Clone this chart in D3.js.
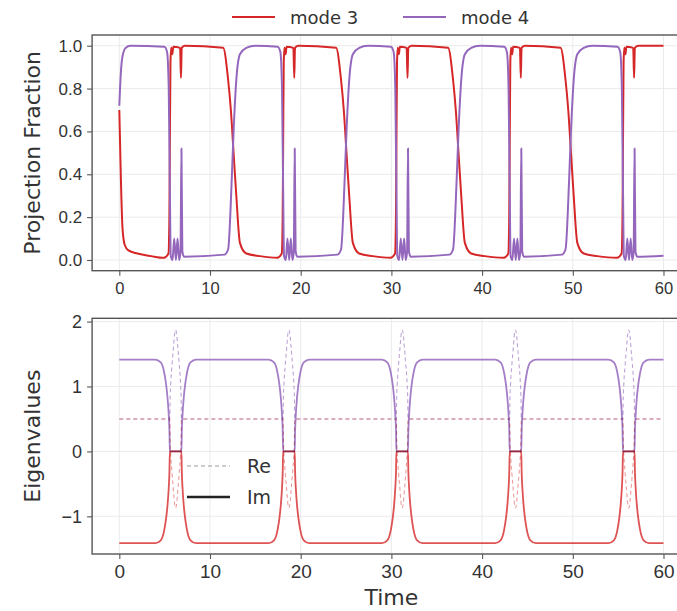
<!DOCTYPE html>
<html>
<head>
<meta charset="utf-8">
<script src="https://cdn.jsdelivr.net/npm/d3@7"></script>
<style>
  html, body { margin: 0; padding: 0; background: #fff; }
  svg { display: block; font-family: "DejaVu Sans", sans-serif; }
</style>
</head>
<body>
<svg id="chart" width="677" height="611"></svg>
<script>
// top panel: projection fraction of the state onto each mode, [time, value]
const mode3 = [
  [0, 0.70], [0.15, 0.42], [0.35, 0.15], [0.6, 0.07], [1.0, 0.045], [2.0, 0.03], [3.5, 0.018], [4.92, 0.01],
  [5.42, 0.03], [5.52, 0.2], [5.57, 0.5], [5.64, 0.92], [5.72, 0.99], [5.85, 0.96], [5.95, 0.995], [6.7, 0.99], [6.8, 0.85], [6.88, 0.99], [7.2, 1.0],
  [11.45, 0.99], [12.0, 0.84], [12.3, 0.7], [12.6, 0.5], [12.9, 0.3], [13.3, 0.08], [14.0, 0.03], [15.5, 0.018], [17.41, 0.01],
  [17.91, 0.03], [18.01, 0.2], [18.06, 0.5], [18.13, 0.92], [18.21, 0.99], [18.34, 0.96], [18.44, 0.995], [19.19, 0.99], [19.29, 0.85], [19.37, 0.99], [19.7, 1.0],
  [23.9, 0.99], [24.45, 0.84], [24.75, 0.7], [25.05, 0.5], [25.35, 0.3], [25.75, 0.08], [26.45, 0.03], [27.95, 0.018], [29.9, 0.01],
  [30.4, 0.03], [30.5, 0.2], [30.55, 0.5], [30.62, 0.92], [30.7, 0.99], [30.83, 0.96], [30.93, 0.995], [31.68, 0.99], [31.78, 0.85], [31.86, 0.99], [32.2, 1.0],
  [36.25, 0.99], [36.8, 0.84], [37.1, 0.7], [37.4, 0.5], [37.7, 0.3], [38.1, 0.08], [38.8, 0.03], [40.3, 0.018], [42.39, 0.01],
  [42.89, 0.03], [42.99, 0.2], [43.04, 0.5], [43.11, 0.92], [43.19, 0.99], [43.32, 0.96], [43.42, 0.995], [44.17, 0.99], [44.27, 0.85], [44.35, 0.99], [44.7, 1.0],
  [48.65, 0.99], [49.2, 0.84], [49.5, 0.7], [49.8, 0.5], [50.1, 0.3], [50.5, 0.08], [51.2, 0.03], [52.7, 0.018], [54.88, 0.01],
  [55.38, 0.03], [55.48, 0.2], [55.53, 0.5], [55.6, 0.92], [55.68, 0.99], [55.81, 0.96], [55.91, 0.995], [56.66, 0.99], [56.76, 0.85], [56.84, 0.99], [57.2, 1.0],
  [60, 1.0],
];

const mode4 = [
  [0, 0.72], [0.15, 0.86], [0.35, 0.95], [0.7, 0.99], [1.2, 1.0], [4.97, 0.995],
  [5.27, 0.97], [5.45, 0.8], [5.57, 0.35], [5.67, 0.02], [5.87, 0.0], [6.05, 0.1], [6.24, 0.0], [6.42, 0.1], [6.6, 0.0], [6.75, 0.04], [6.85, 0.52], [6.95, 0.04], [7.15, 0.015],
  [11.6, 0.025], [12.0, 0.05], [12.4, 0.38], [12.6, 0.6], [12.9, 0.84], [13.3, 0.96], [14.0, 0.99], [15.0, 1.0], [17.46, 0.995],
  [17.76, 0.97], [17.94, 0.8], [18.06, 0.35], [18.16, 0.02], [18.36, 0.0], [18.54, 0.1], [18.73, 0.0], [18.91, 0.1], [19.09, 0.0], [19.24, 0.04], [19.34, 0.52], [19.44, 0.04], [19.64, 0.015],
  [24.05, 0.025], [24.45, 0.05], [24.85, 0.38], [25.05, 0.6], [25.35, 0.84], [25.75, 0.96], [26.45, 0.99], [27.4, 1.0], [29.95, 0.995],
  [30.25, 0.97], [30.43, 0.8], [30.55, 0.35], [30.65, 0.02], [30.85, 0.0], [31.03, 0.1], [31.22, 0.0], [31.4, 0.1], [31.58, 0.0], [31.73, 0.04], [31.83, 0.52], [31.93, 0.04], [32.13, 0.015],
  [36.4, 0.025], [36.8, 0.05], [37.2, 0.38], [37.4, 0.6], [37.7, 0.84], [38.1, 0.96], [38.8, 0.99], [39.75, 1.0], [42.44, 0.995],
  [42.74, 0.97], [42.92, 0.8], [43.04, 0.35], [43.14, 0.02], [43.34, 0.0], [43.52, 0.1], [43.71, 0.0], [43.89, 0.1], [44.07, 0.0], [44.22, 0.04], [44.32, 0.52], [44.42, 0.04], [44.62, 0.015],
  [48.8, 0.025], [49.2, 0.05], [49.6, 0.38], [49.8, 0.6], [50.1, 0.84], [50.5, 0.96], [51.2, 0.99], [52.15, 1.0], [54.93, 0.995],
  [55.23, 0.97], [55.41, 0.8], [55.53, 0.35], [55.63, 0.02], [55.83, 0.0], [56.01, 0.1], [56.2, 0.0], [56.38, 0.1], [56.56, 0.0], [56.71, 0.04], [56.81, 0.52], [56.91, 0.04], [57.11, 0.015],
  [60, 0.02],
];

// bottom panel: imaginary parts (solid) and real parts (dashed) of the two eigenvalues
const imUpper = [
  [0, 1.414],
  [3.97, 1.414], [4.57, 1.37], [4.97, 1.2], [5.17, 1.02], [5.32, 0.82], [5.45, 0.56], [5.53, 0.3], [5.57, 0], [6.85, 0], [6.89, 0.3], [6.97, 0.56], [7.1, 0.82], [7.25, 1.02], [7.45, 1.2], [7.85, 1.37], [8.45, 1.414],
  [16.46, 1.414], [17.06, 1.37], [17.46, 1.2], [17.66, 1.02], [17.81, 0.82], [17.94, 0.56], [18.02, 0.3], [18.06, 0], [19.34, 0], [19.38, 0.3], [19.46, 0.56], [19.59, 0.82], [19.74, 1.02], [19.94, 1.2], [20.34, 1.37], [20.94, 1.414],
  [28.95, 1.414], [29.55, 1.37], [29.95, 1.2], [30.15, 1.02], [30.3, 0.82], [30.43, 0.56], [30.51, 0.3], [30.55, 0], [31.83, 0], [31.87, 0.3], [31.95, 0.56], [32.08, 0.82], [32.23, 1.02], [32.43, 1.2], [32.83, 1.37], [33.43, 1.414],
  [41.44, 1.414], [42.04, 1.37], [42.44, 1.2], [42.64, 1.02], [42.79, 0.82], [42.92, 0.56], [43.0, 0.3], [43.04, 0], [44.32, 0], [44.36, 0.3], [44.44, 0.56], [44.57, 0.82], [44.72, 1.02], [44.92, 1.2], [45.32, 1.37], [45.92, 1.414],
  [53.93, 1.414], [54.53, 1.37], [54.93, 1.2], [55.13, 1.02], [55.28, 0.82], [55.41, 0.56], [55.49, 0.3], [55.53, 0], [56.81, 0], [56.85, 0.3], [56.93, 0.56], [57.06, 0.82], [57.21, 1.02], [57.41, 1.2], [57.81, 1.37], [58.41, 1.414],
  [60, 1.414],
];

const imLower = [
  [0, -1.414],
  [3.97, -1.414], [4.57, -1.37], [4.97, -1.2], [5.17, -1.02], [5.32, -0.82], [5.45, -0.56], [5.53, -0.3], [5.57, 0], [6.85, 0], [6.89, -0.3], [6.97, -0.56], [7.1, -0.82], [7.25, -1.02], [7.45, -1.2], [7.85, -1.37], [8.45, -1.414],
  [16.46, -1.414], [17.06, -1.37], [17.46, -1.2], [17.66, -1.02], [17.81, -0.82], [17.94, -0.56], [18.02, -0.3], [18.06, 0], [19.34, 0], [19.38, -0.3], [19.46, -0.56], [19.59, -0.82], [19.74, -1.02], [19.94, -1.2], [20.34, -1.37], [20.94, -1.414],
  [28.95, -1.414], [29.55, -1.37], [29.95, -1.2], [30.15, -1.02], [30.3, -0.82], [30.43, -0.56], [30.51, -0.3], [30.55, 0], [31.83, 0], [31.87, -0.3], [31.95, -0.56], [32.08, -0.82], [32.23, -1.02], [32.43, -1.2], [32.83, -1.37], [33.43, -1.414],
  [41.44, -1.414], [42.04, -1.37], [42.44, -1.2], [42.64, -1.02], [42.79, -0.82], [42.92, -0.56], [43.0, -0.3], [43.04, 0], [44.32, 0], [44.36, -0.3], [44.44, -0.56], [44.57, -0.82], [44.72, -1.02], [44.92, -1.2], [45.32, -1.37], [45.92, -1.414],
  [53.93, -1.414], [54.53, -1.37], [54.93, -1.2], [55.13, -1.02], [55.28, -0.82], [55.41, -0.56], [55.49, -0.3], [55.53, 0], [56.81, 0], [56.85, -0.3], [56.93, -0.56], [57.06, -0.82], [57.21, -1.02], [57.41, -1.2], [57.81, -1.37], [58.41, -1.414],
  [60, -1.414],
];

const reUpper = [
  [0, 0.5],
  [5.57, 0.5], [5.6, 0.8], [5.67, 1.05], [5.82, 1.35], [5.97, 1.6], [6.09, 1.8], [6.21, 1.87], [6.33, 1.8], [6.45, 1.6], [6.6, 1.35], [6.75, 1.05], [6.82, 0.8], [6.85, 0.5],
  [18.06, 0.5], [18.09, 0.8], [18.16, 1.05], [18.31, 1.35], [18.46, 1.6], [18.58, 1.8], [18.7, 1.87], [18.82, 1.8], [18.94, 1.6], [19.09, 1.35], [19.24, 1.05], [19.31, 0.8], [19.34, 0.5],
  [30.55, 0.5], [30.58, 0.8], [30.65, 1.05], [30.8, 1.35], [30.95, 1.6], [31.07, 1.8], [31.19, 1.87], [31.31, 1.8], [31.43, 1.6], [31.58, 1.35], [31.73, 1.05], [31.8, 0.8], [31.83, 0.5],
  [43.04, 0.5], [43.07, 0.8], [43.14, 1.05], [43.29, 1.35], [43.44, 1.6], [43.56, 1.8], [43.68, 1.87], [43.8, 1.8], [43.92, 1.6], [44.07, 1.35], [44.22, 1.05], [44.29, 0.8], [44.32, 0.5],
  [55.53, 0.5], [55.56, 0.8], [55.63, 1.05], [55.78, 1.35], [55.93, 1.6], [56.05, 1.8], [56.17, 1.87], [56.29, 1.8], [56.41, 1.6], [56.56, 1.35], [56.71, 1.05], [56.78, 0.8], [56.81, 0.5],
  [60, 0.5],
];

const reLower = [
  [0, 0.5],
  [5.57, 0.5], [5.6, 0.2], [5.67, -0.05], [5.82, -0.35], [5.97, -0.6], [6.09, -0.8], [6.21, -0.87], [6.33, -0.8], [6.45, -0.6], [6.6, -0.35], [6.75, -0.05], [6.82, 0.2], [6.85, 0.5],
  [18.06, 0.5], [18.09, 0.2], [18.16, -0.05], [18.31, -0.35], [18.46, -0.6], [18.58, -0.8], [18.7, -0.87], [18.82, -0.8], [18.94, -0.6], [19.09, -0.35], [19.24, -0.05], [19.31, 0.2], [19.34, 0.5],
  [30.55, 0.5], [30.58, 0.2], [30.65, -0.05], [30.8, -0.35], [30.95, -0.6], [31.07, -0.8], [31.19, -0.87], [31.31, -0.8], [31.43, -0.6], [31.58, -0.35], [31.73, -0.05], [31.8, 0.2], [31.83, 0.5],
  [43.04, 0.5], [43.07, 0.2], [43.14, -0.05], [43.29, -0.35], [43.44, -0.6], [43.56, -0.8], [43.68, -0.87], [43.8, -0.8], [43.92, -0.6], [44.07, -0.35], [44.22, -0.05], [44.29, 0.2], [44.32, 0.5],
  [55.53, 0.5], [55.56, 0.2], [55.63, -0.05], [55.78, -0.35], [55.93, -0.6], [56.05, -0.8], [56.17, -0.87], [56.29, -0.8], [56.41, -0.6], [56.56, -0.35], [56.71, -0.05], [56.78, 0.2], [56.81, 0.5],
  [60, 0.5],
];

const timeTicks = [0, 10, 20, 30, 40, 50, 60];
const fracTicks = [0.0, 0.2, 0.4, 0.6, 0.8, 1.0];
const eigTicks = [-1, 0, 1, 2];
const legendTop = ['mode 3', 'mode 4'];
const legendBottom = ['Re', 'Im'];

const RED = '#d62728';
const PURPLE = '#9467bd';
const SPINE = '#555';
const INK = '#333';

const svg = d3.select('#chart');
svg.append('rect').attr('width', 677).attr('height', 611).attr('fill', '#fff');

const x = d3.scaleLinear().domain([-3, 63]).range([92.1, 690.7]);
const yTop = d3.scaleLinear().domain([-0.05, 1.05]).range([270.7, 35]);
const yBot = d3.scaleLinear().domain([-1.58, 2.05]).range([554, 318.3]);

function drawFrame(y, yTicks, yFmt, xFont, yFont, xPad) {
  const g = svg.append('g');
  const [y0, y1] = y.range();
  // grid
  g.selectAll('line.gx').data(timeTicks).join('line')
    .attr('x1', (d) => x(d)).attr('x2', (d) => x(d))
    .attr('y1', y0).attr('y2', y1)
    .attr('stroke', '#e9e9e9').attr('stroke-width', 0.9);
  g.selectAll('line.gy').data(yTicks).join('line')
    .attr('x1', x.range()[0]).attr('x2', x.range()[1])
    .attr('y1', (d) => y(d)).attr('y2', (d) => y(d))
    .attr('stroke', '#e9e9e9').attr('stroke-width', 0.9);

  const ax = svg.append('g')
    .attr('transform', `translate(0,${y0})`)
    .call(d3.axisBottom(x).tickValues(timeTicks).tickFormat(d3.format('d')).tickSize(5).tickPadding(xPad).tickSizeOuter(0));
  ax.select('.domain').remove();
  ax.selectAll('line').attr('stroke', SPINE).attr('stroke-width', 1.1);
  ax.selectAll('text').attr('fill', INK).style('font-size', xFont + 'px');

  const ay = svg.append('g')
    .attr('transform', `translate(${x.range()[0]},0)`)
    .call(d3.axisLeft(y).tickValues(yTicks).tickFormat(yFmt).tickSize(5).tickPadding(5).tickSizeOuter(0));
  ay.select('.domain').remove();
  ay.selectAll('line').attr('stroke', SPINE).attr('stroke-width', 1.1);
  ay.selectAll('text').attr('fill', INK).style('font-size', yFont + 'px');
  return g;
}

function drawSpines(y) {
  const [y0, y1] = y.range();
  svg.append('rect')
    .attr('x', x.range()[0]).attr('y', y1)
    .attr('width', x.range()[1] - x.range()[0]).attr('height', y0 - y1)
    .attr('fill', 'none').attr('stroke', SPINE).attr('stroke-width', 1.4);
}

function addClip(id, y) {
  const [y0, y1] = y.range();
  svg.append('clipPath').attr('id', id).append('rect')
    .attr('x', x.range()[0]).attr('y', y1)
    .attr('width', x.range()[1] - x.range()[0]).attr('height', y0 - y1);
}

// ---- top panel
drawFrame(yTop, fracTicks, d3.format('.1f'), 16.5, 17, 7);
addClip('clip-top', yTop);
const lineTop = d3.line().x((d) => x(d[0])).y((d) => yTop(d[1])).curve(d3.curveMonotoneX);
const gTop = svg.append('g').attr('clip-path', 'url(#clip-top)');
gTop.append('path').datum(mode3).attr('d', lineTop)
  .attr('fill', 'none').attr('stroke', RED).attr('stroke-width', 2).attr('stroke-linejoin', 'round');
gTop.append('path').datum(mode4).attr('d', lineTop)
  .attr('fill', 'none').attr('stroke', PURPLE).attr('stroke-width', 2).attr('stroke-linejoin', 'round');
drawSpines(yTop);

// ---- bottom panel
drawFrame(yBot, eigTicks, d3.format('d'), 19, 18, 6);
addClip('clip-bot', yBot);
const lineBot = d3.line().x((d) => x(d[0])).y((d) => yBot(d[1])).curve(d3.curveMonotoneX);
const gBot = svg.append('g').attr('clip-path', 'url(#clip-bot)');
gBot.append('path').datum(reUpper).attr('d', lineBot)
  .attr('fill', 'none').attr('stroke', PURPLE).attr('stroke-width', 1.1)
  .attr('stroke-dasharray', '4,3').attr('opacity', 0.6);
gBot.append('path').datum(reLower).attr('d', lineBot)
  .attr('fill', 'none').attr('stroke', RED).attr('stroke-width', 1.1)
  .attr('stroke-dasharray', '4,3').attr('opacity', 0.45);
gBot.append('path').datum(imUpper).attr('d', lineBot)
  .attr('fill', 'none').attr('stroke', PURPLE).attr('stroke-width', 1.8).attr('opacity', 0.85)
  .style('mix-blend-mode', 'multiply');
gBot.append('path').datum(imLower).attr('d', lineBot)
  .attr('fill', 'none').attr('stroke', RED).attr('stroke-width', 1.8).attr('opacity', 0.8)
  .style('mix-blend-mode', 'multiply');
drawSpines(yBot);

// ---- axis labels
svg.append('text')
  .attr('transform', `translate(40,${(yTop.range()[0] + yTop.range()[1]) / 2}) rotate(-90)`)
  .attr('text-anchor', 'middle').attr('fill', INK).style('font-size', '22px')
  .text('Projection Fraction');
svg.append('text')
  .attr('transform', `translate(40,${(yBot.range()[0] + yBot.range()[1]) / 2}) rotate(-90)`)
  .attr('text-anchor', 'middle').attr('fill', INK).style('font-size', '22px')
  .text('Eigenvalues');
svg.append('text')
  .attr('x', (x.range()[0] + x.range()[1]) / 2).attr('y', 605)
  .attr('text-anchor', 'middle').attr('fill', INK).style('font-size', '22px')
  .text('Time');

// ---- legends
const topLeg = [
  { label: legendTop[0], color: RED, x: 232 },
  { label: legendTop[1], color: PURPLE, x: 403 },
];
topLeg.forEach((d) => {
  svg.append('line').attr('x1', d.x).attr('x2', d.x + 43).attr('y1', 17).attr('y2', 17)
    .attr('stroke', d.color).attr('stroke-width', 2.2);
  svg.append('text').attr('x', d.x + 58).attr('y', 23.5).attr('fill', INK)
    .style('font-size', '18px').text(d.label);
});

const botLeg = [
  { label: legendBottom[0], y: 466, dash: '4,3', color: '#9a9a9a', w: 1.2 },
  { label: legendBottom[1], y: 497, dash: null, color: '#222', w: 2.6 },
];
botLeg.forEach((d) => {
  svg.append('line').attr('x1', 187).attr('x2', 230).attr('y1', d.y).attr('y2', d.y)
    .attr('stroke', d.color).attr('stroke-width', d.w)
    .attr('stroke-dasharray', d.dash);
  svg.append('text').attr('x', 247).attr('y', d.y + 7).attr('fill', INK)
    .style('font-size', '19px').text(d.label);
});
</script>
</body>
</html>
